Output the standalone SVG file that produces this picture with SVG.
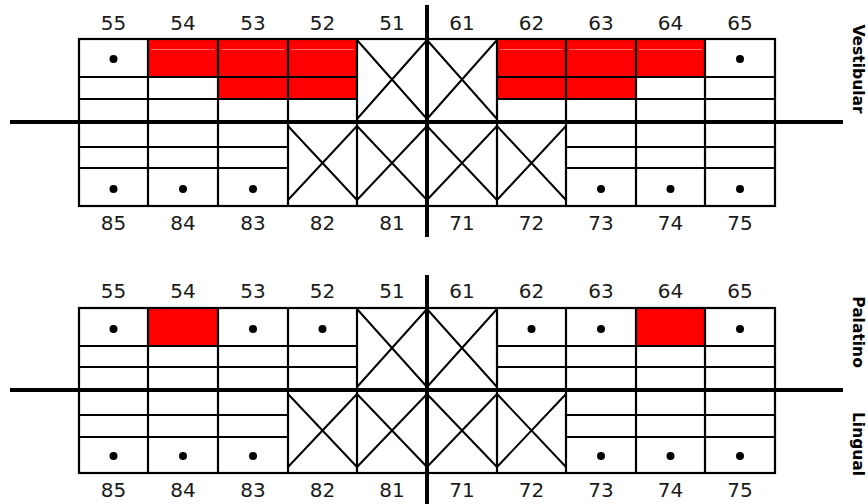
<svg xmlns="http://www.w3.org/2000/svg" width="868" height="504" viewBox="0 0 868 504">
<style>
.bg{fill:#ffffff}
.red{fill:#ff0000}
.sheen{stroke:#ff8a8a;stroke-width:0.8}
.g{stroke:#000;stroke-width:2.2;fill:none}
.x{stroke:#000;stroke-width:2;fill:none}
.axis{stroke:#000;stroke-width:4}
.dot{fill:#000}
.num{font-family:"DejaVu Sans","Verdana",sans-serif;font-size:20px;fill:#1a1a1a;text-anchor:middle}
.side{font-family:"DejaVu Sans","Verdana",sans-serif;font-size:15.5px;font-weight:bold;fill:#000;text-anchor:middle}
</style>
<rect class="bg" x="0" y="0" width="868" height="504"/>

<!-- ===== Chart 1 (Vestibular) ===== -->
<g id="chart1">
  <g id="c1-fills">
    <rect class="red" x="148" y="39" width="70" height="38"/>
    <rect class="red" x="218" y="39" width="70" height="60"/>
    <rect class="red" x="288" y="39" width="69" height="60"/>
    <rect class="red" x="497" y="39" width="69" height="60"/>
    <rect class="red" x="566" y="39" width="70" height="60"/>
    <rect class="red" x="636" y="39" width="69" height="38"/>
    <path class="sheen" d="M151 49.5H215M221 49.5H285M291 49.5H354M500 49.5H563M569 49.5H633M639 49.5H702"/>
  </g>
  <g id="c1-grid">
    <rect class="g" x="79" y="39" width="696" height="167"/>
    <path class="g" d="M148 39V206M218 39V206M288 39V206M357 39V206M497 39V206M566 39V206M636 39V206M705 39V206"/>
    <path class="g" d="M79 77H357M79 99H357M497 77H775M497 99H775"/>
    <path class="g" d="M79 147H288M79 168H288M566 147H775M566 168H775"/>
  </g>
  <g id="c1-missing">
    <path class="x" d="M357 40L427 119M427 40L357 119M427 40L497 119M497 40L427 119"/>
    <path class="x" d="M288 126L357 200M357 126L288 200M357 126L427 200M427 126L357 200M427 126L497 200M497 126L427 200M497 126L566 200M566 126L497 200"/>
  </g>
  <g id="c1-dots">
    <circle class="dot" cx="113.5" cy="59" r="4"/>
    <circle class="dot" cx="740" cy="59" r="4"/>
    <circle class="dot" cx="113.5" cy="189" r="4"/>
    <circle class="dot" cx="183" cy="189" r="4"/>
    <circle class="dot" cx="253" cy="189" r="4"/>
    <circle class="dot" cx="601" cy="189" r="4"/>
    <circle class="dot" cx="670.5" cy="189" r="4"/>
    <circle class="dot" cx="740" cy="189" r="4"/>
  </g>
  <g id="c1-axes">
    <line class="axis" x1="10" y1="122" x2="843" y2="122"/>
    <line class="axis" x1="427" y1="5" x2="427" y2="237"/>
  </g>
  <g id="c1-labels">
    <text class="num" x="113.5" y="30">55</text>
    <text class="num" x="183" y="30">54</text>
    <text class="num" x="253" y="30">53</text>
    <text class="num" x="322.5" y="30">52</text>
    <text class="num" x="392" y="30">51</text>
    <text class="num" x="462" y="30">61</text>
    <text class="num" x="531.5" y="30">62</text>
    <text class="num" x="601" y="30">63</text>
    <text class="num" x="670.5" y="30">64</text>
    <text class="num" x="740" y="30">65</text>
    <text class="num" x="113.5" y="230">85</text>
    <text class="num" x="183" y="230">84</text>
    <text class="num" x="253" y="230">83</text>
    <text class="num" x="322.5" y="230">82</text>
    <text class="num" x="392" y="230">81</text>
    <text class="num" x="462" y="230">71</text>
    <text class="num" x="531.5" y="230">72</text>
    <text class="num" x="601" y="230">73</text>
    <text class="num" x="670.5" y="230">74</text>
    <text class="num" x="740" y="230">75</text>
    <text class="side" transform="translate(852.5,69) rotate(90)">Vestibular</text>
  </g>
</g>

<!-- ===== Chart 2 (Palatino / Lingual) ===== -->
<g id="chart2">
  <g id="c2-fills">
    <rect class="red" x="148" y="308" width="70" height="38"/>
    <rect class="red" x="636" y="308" width="69" height="38"/>
  </g>
  <g id="c2-grid">
    <rect class="g" x="79" y="308" width="696" height="165"/>
    <path class="g" d="M148 308V473M218 308V473M288 308V473M357 308V473M497 308V473M566 308V473M636 308V473M705 308V473"/>
    <path class="g" d="M79 346H357M79 367H357M497 346H775M497 367H775"/>
    <path class="g" d="M79 415H288M79 437H288M566 415H775M566 437H775"/>
  </g>
  <g id="c2-missing">
    <path class="x" d="M357 309L427 387M427 309L357 387M427 309L497 387M497 309L427 387"/>
    <path class="x" d="M288 394L357 467M357 394L288 467M357 394L427 467M427 394L357 467M427 394L497 467M497 394L427 467M497 394L566 467M566 394L497 467"/>
  </g>
  <g id="c2-dots">
    <circle class="dot" cx="113.5" cy="329" r="4"/>
    <circle class="dot" cx="253" cy="329" r="4"/>
    <circle class="dot" cx="322.5" cy="329" r="4"/>
    <circle class="dot" cx="531.5" cy="329" r="4"/>
    <circle class="dot" cx="601" cy="329" r="4"/>
    <circle class="dot" cx="740" cy="329" r="4"/>
    <circle class="dot" cx="113.5" cy="456" r="4"/>
    <circle class="dot" cx="183" cy="456" r="4"/>
    <circle class="dot" cx="253" cy="456" r="4"/>
    <circle class="dot" cx="601" cy="456" r="4"/>
    <circle class="dot" cx="670.5" cy="456" r="4"/>
    <circle class="dot" cx="740" cy="456" r="4"/>
  </g>
  <g id="c2-axes">
    <line class="axis" x1="10" y1="390" x2="843" y2="390"/>
    <line class="axis" x1="427" y1="275" x2="427" y2="504"/>
  </g>
  <g id="c2-labels">
    <text class="num" x="113.5" y="298">55</text>
    <text class="num" x="183" y="298">54</text>
    <text class="num" x="253" y="298">53</text>
    <text class="num" x="322.5" y="298">52</text>
    <text class="num" x="392" y="298">51</text>
    <text class="num" x="462" y="298">61</text>
    <text class="num" x="531.5" y="298">62</text>
    <text class="num" x="601" y="298">63</text>
    <text class="num" x="670.5" y="298">64</text>
    <text class="num" x="740" y="298">65</text>
    <text class="num" x="113.5" y="497">85</text>
    <text class="num" x="183" y="497">84</text>
    <text class="num" x="253" y="497">83</text>
    <text class="num" x="322.5" y="497">82</text>
    <text class="num" x="392" y="497">81</text>
    <text class="num" x="462" y="497">71</text>
    <text class="num" x="531.5" y="497">72</text>
    <text class="num" x="601" y="497">73</text>
    <text class="num" x="670.5" y="497">74</text>
    <text class="num" x="740" y="497">75</text>
    <text class="side" transform="translate(852.5,332) rotate(90)">Palatino</text>
    <text class="side" transform="translate(852.5,444) rotate(90)">Lingual</text>
  </g>
</g>
</svg>
